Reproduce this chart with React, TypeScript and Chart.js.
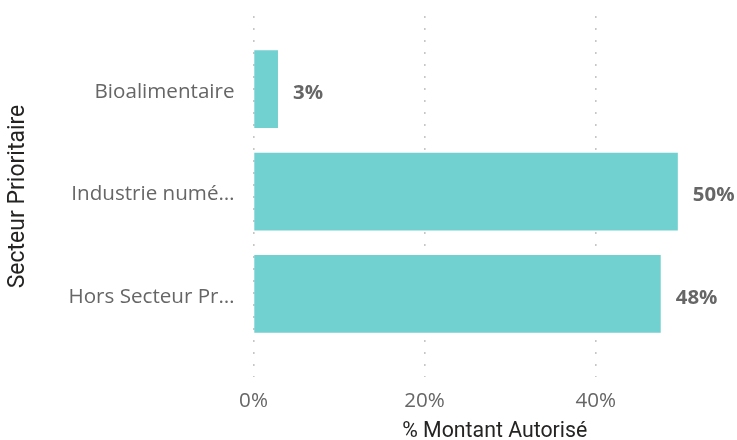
import React, { useEffect, useRef } from "react";
import { Chart, registerables } from "chart.js";

Chart.register(...registerables);

// ---- data ----
const categories = ["Bioalimentaire", "Industrie numérique", "Hors Secteur Prioritaire"];
const tickLabels = ["Bioalimentaire", "Industrie numé…", "Hors Secteur Pr…"];
const values = [2.86, 49.6, 47.6];
const xTicks = [0, 20, 40];
const xTitle = "% Montant Autorisé";
const yTitle = "Secteur Prioritaire";

const BAR_COLOR = "#71D0D0";
const LABEL_GRAY = "#666666";
const TITLE_DARK = "#252423";
const GRID_GRAY = "#C8C6C4";

const dataLabelPlugin = {
  id: "dataLabels",
  afterDatasetsDraw(chart: any) {
    const ctx = chart.ctx;
    const meta = chart.getDatasetMeta(0);
    ctx.save();
    ctx.font = 'bold 20.4px "Open Sans"';
    ctx.fillStyle = LABEL_GRAY;
    ctx.textAlign = "left";
    ctx.textBaseline = "middle";
    meta.data.forEach((bar: any, i: number) => {
      ctx.fillText(Math.round(values[i]) + "%", bar.x + 15, bar.y + 4);
    });
    ctx.restore();
  },
};

export default function App() {
  const ref = useRef<HTMLCanvasElement | null>(null);

  useEffect(() => {
    if (!ref.current) return;
    const chart = new Chart(ref.current, {
      type: "bar",
      data: {
        datasets: [
          {
            label: xTitle,
            data: values.map((v, i) => ({ x: v, y: i })),
            backgroundColor: BAR_COLOR,
            borderWidth: 0,
            barPercentage: 0.76,
            categoryPercentage: 1,
          },
        ],
      },
      options: {
        indexAxis: "y",
        animation: false,
        responsive: false,
        layout: { padding: { top: 16, right: 1, bottom: 0, left: 0 } },
        plugins: {
          legend: { display: false },
          tooltip: { enabled: false },
        },
        scales: {
          x: {
            type: "linear",
            position: "bottom",
            min: 0,
            max: 56.4,
            afterBuildTicks: (scale: any) => {
              scale.ticks = xTicks.map((v) => ({ value: v }));
            },
            afterFit: (scale: any) => {
              scale.height = 63;
              scale.paddingLeft = 0;
              scale.paddingRight = 0;
            },
            ticks: {
              padding: 12,
              color: LABEL_GRAY,
              font: { family: "Open Sans", size: 20.6 },
              callback: (v: any) => v + "%",
            },
            grid: {
              color: GRID_GRAY,
              lineWidth: 1.6,
              drawTicks: false,
            },
            border: { display: false, dash: [2, 10] },
            title: {
              display: true,
              text: xTitle,
              color: TITLE_DARK,
              font: { family: "Roboto", size: 21.3, lineHeight: 1 },
              padding: { top: 0, bottom: -2 },
            },
          },
          y: {
            type: "linear",
            position: "left",
            reverse: true,
            offset: false,
            min: -0.715,
            max: 2.812,
            afterBuildTicks: (scale: any) => {
              scale.ticks = categories.map((_, i) => ({ value: i }));
            },
            afterFit: (scale: any) => {
              scale.width = 253.5;
              scale.paddingTop = 0;
              scale.paddingBottom = 0;
            },
            ticks: {
              padding: 19,
              labelOffset: 3,
              color: LABEL_GRAY,
              font: { family: "Open Sans", size: 20.6 },
              callback: (v: any) => tickLabels[v] ?? "",
            },
            grid: { display: false, drawTicks: false, offset: false },
            border: { display: false },
            title: {
              display: true,
              text: yTitle,
              color: TITLE_DARK,
              font: { family: "Roboto", size: 23, lineHeight: 1 },
              padding: { top: 7, bottom: 0 },
            },
          },
        },
      } as any,
      plugins: [dataLabelPlugin],
    });
    return () => chart.destroy();
  }, []);

  return (
    <div style={{ position: "absolute", left: 0, top: 0, width: 737, height: 440, background: "#fff" }}>
      <canvas ref={ref} width={737} height={440} style={{ display: "block" }} />
    </div>
  );
}
